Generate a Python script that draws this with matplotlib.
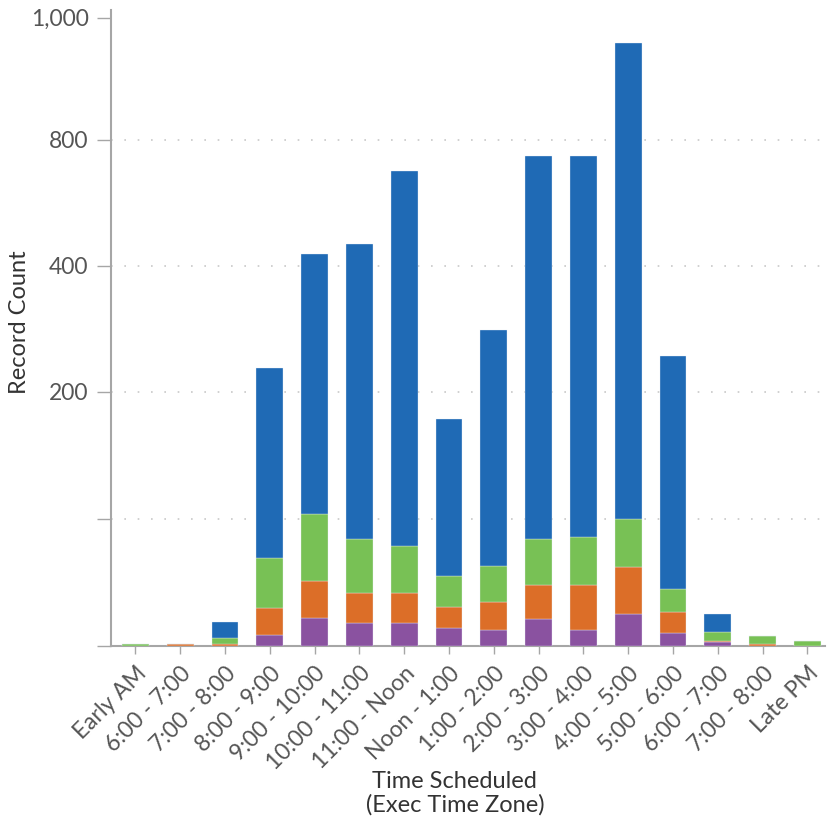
import numpy as np
import matplotlib
matplotlib.use("Agg")
import matplotlib.pyplot as plt

plt.rcParams["font.family"] = ["Lato", "DejaVu Sans"]

slots = ['Early AM', '6:00 - 7:00', '7:00 - 8:00', '8:00 - 9:00', '9:00 - 10:00',
         '10:00 - 11:00', '11:00 - Noon', 'Noon - 1:00', '1:00 - 2:00', '2:00 - 3:00',
         '3:00 - 4:00', '4:00 - 5:00', '5:00 - 6:00', '6:00 - 7:00', '7:00 - 8:00', 'Late PM']

# record counts per slot, stacked bottom to top
purple = [0, 0, 0, 9, 22, 18, 18, 14, 13, 21, 13, 25, 10, 3, 0, 0]
orange = [0, 2, 2, 21, 29, 24, 24, 17, 22, 27, 35, 37, 17, 1, 2, 0]
green = [2, 0, 4, 39, 53, 42, 37, 24, 28, 36, 38, 38, 18, 7, 6, 4]
blue = [0, 0, 13, 169, 334, 386, 623, 124, 235, 665, 663, 859, 212, 14, 0, 0]

series = [(purple, '#8a52a0'), (orange, '#dc6e28'), (green, '#78c155'), (blue, '#1f6ab5')]

# piecewise axis: tick values spaced evenly
knot_val = np.array([0, 100, 200, 400, 800, 1000, 1200])
knot_pos = np.array([0, 127, 254, 380, 506, 628, 750], dtype=float)

def fwd(v):
    return np.interp(v, knot_val, knot_pos)

def inv(p):
    return np.interp(p, knot_pos, knot_val)

fig = plt.figure(figsize=(8.27, 8.23), dpi=100)
ax = fig.add_axes([0.134, 0.215, 0.864, 0.773])
ax.set_yscale('function', functions=(fwd, inv))

x = np.arange(len(slots))
bottom = np.zeros(len(slots))
for vals, col in series:
    vals = np.array(vals, dtype=float)
    ax.bar(x, vals, 0.6, bottom=bottom, color=col, edgecolor='#e8eef6', linewidth=0.25, zorder=3)
    bottom += vals

ax.set_xlim(-0.55, 15.4)
ax.set_ylim(0, 1013)

ax.set_yticks([0, 100, 200, 400, 800, 1000])
ax.set_yticklabels(['', '', '200', '400', '800', '1,000'])
ax.set_xticks(x)
ax.set_xticklabels(slots, rotation=45, ha='right', rotation_mode='anchor')

for v in [100, 200, 400, 800]:
    ax.axhline(v, color='#c8c8c8', linestyle=(0, (1, 7)), linewidth=1.2, zorder=1)

for s in ['top', 'right']:
    ax.spines[s].set_visible(False)
for s in ['left', 'bottom']:
    ax.spines[s].set_color('#a6a6a6')
    ax.spines[s].set_linewidth(1.5)

ax.tick_params(axis='y', length=10, width=1, color='#a6a6a6', labelsize=16.5,
               labelcolor='#555555', pad=6)
ax.tick_params(axis='x', length=6, width=1, color='#a6a6a6', labelsize=16.5,
               labelcolor='#555555', pad=6)

fig.text(0.024, 0.609, 'Record Count', rotation=90, ha='center', va='center',
         fontsize=17, color='#333333')
fig.text(0.55, 0.036, 'Time Scheduled\n(Exec Time Zone)', ha='center', va='center',
         fontsize=17, color='#333333', linespacing=1.1)

fig.savefig('out.png', dpi=100)
